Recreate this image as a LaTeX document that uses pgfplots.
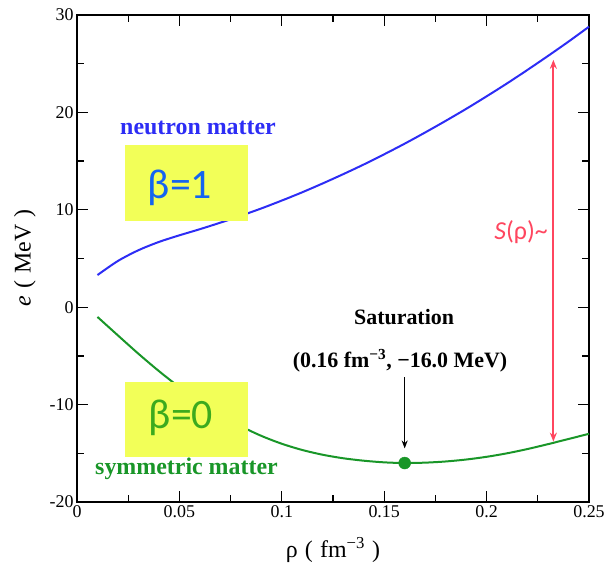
\documentclass[border=0pt]{standalone}
\usepackage{pgfplots}
\pgfplotsset{compat=1.18}
\usepackage{fontspec}
\setmainfont{Liberation Serif}
\newfontfamily\calibri{Carlito}
\usetikzlibrary{arrows.meta}
\definecolor{nblue}{RGB}{45,45,245}
\definecolor{sgreen}{RGB}{25,150,40}
\definecolor{hlyellow}{RGB}{242,255,88}
\definecolor{bblue}{RGB}{20,100,240}
\definecolor{bgreen}{RGB}{60,170,30}
\definecolor{sred}{RGB}{255,70,95}
\begin{document}
\begin{tikzpicture}
\useasboundingbox (-77bp,-66bp) rectangle (533bp,502bp);
\begin{axis}[
  at={(0,0)}, anchor=south west, scale only axis,
  width=512bp, height=487bp,
  xmin=0, xmax=0.25, ymin=-20, ymax=30,
  xtick={0,0.05,0.1,0.15,0.2,0.25},
  xticklabels={0,0.05,0.1,0.15,0.2,0.25},
  ytick={-20,-10,0,10,20,30},
  yticklabels={-20,-10,0,10,20,30},
  minor x tick num=1, minor y tick num=1,
  tick align=inside,
  major tick length=11bp, minor tick length=7bp,
  every tick/.style={black, line width=1.3bp},
  axis line style={line width=1.8bp},
  ticklabel style={font=\fontsize{18}{20}\selectfont},
  clip=false,
]
% neutron matter
\addplot[nblue, line width=2bp, smooth] coordinates {
(0.01,3.3) (0.02,4.75) (0.03,5.85) (0.04,6.7) (0.05,7.38) (0.06,8.01)
(0.07,8.68) (0.08,9.39) (0.09,10.14) (0.10,10.95) (0.11,11.8) (0.12,12.71)
(0.13,13.66) (0.14,14.65) (0.15,15.7) (0.16,16.79) (0.17,17.94) (0.18,19.13)
(0.19,20.36) (0.20,21.65) (0.21,22.98) (0.22,24.37) (0.23,25.8) (0.24,27.27)
(0.25,28.8)};
% symmetric matter
\addplot[sgreen, line width=2bp, smooth] coordinates {
(0.01,-1.0) (0.02,-2.9) (0.03,-4.78) (0.04,-6.56) (0.05,-8.21) (0.06,-9.71)
(0.07,-11.05) (0.08,-12.22) (0.09,-13.21) (0.10,-14.02) (0.11,-14.66) (0.12,-15.15)
(0.13,-15.51) (0.14,-15.76) (0.15,-15.93) (0.16,-16.0) (0.17,-15.96) (0.18,-15.84)
(0.19,-15.64) (0.20,-15.36) (0.21,-15.0) (0.22,-14.56) (0.23,-14.06) (0.24,-13.53)
(0.25,-13.0)};
% saturation point
\addplot[only marks, mark=*, mark size=6bp, sgreen] coordinates {(0.16,-16.0)};

% yellow boxes
\fill[hlyellow] (axis cs:0.0234,16.65) rectangle (axis cs:0.0835,8.85);
\fill[hlyellow] (axis cs:0.0234,-7.65) rectangle (axis cs:0.0835,-15.41);
\node[bblue, font=\calibri\fontsize{42}{44}\selectfont] at (axis cs:0.0503,12.3) {β=1};
\node[bgreen, font=\calibri\fontsize{42}{44}\selectfont] at (axis cs:0.0508,-11.4) {β=0};

% curve labels
\node[nblue, anchor=west, font=\bfseries\fontsize{24}{26}\selectfont, inner sep=0pt] at (axis cs:0.021,18.4) {neutron matter};
\node[sgreen, anchor=west, font=\bfseries\fontsize{24}{26}\selectfont, inner sep=0pt] at (axis cs:0.0088,-16.6) {symmetric matter};

% saturation annotation
\node[font=\bfseries\fontsize{22}{24}\selectfont] at (axis cs:0.1597,-1.0) {Saturation};
\node[font=\bfseries\fontsize{22}{24}\selectfont] at (axis cs:0.1577,-5.5) {(0.16 fm\textsuperscript{−3}, −16.0 MeV)};
\draw[-{Stealth[length=8bp,width=6bp]}, line width=1.3bp] (axis cs:0.16,-7.2) -- (axis cs:0.16,-14.5);

% symmetry energy arrow
\draw[{Stealth[length=9bp,width=7bp]}-{Stealth[length=9bp,width=7bp]}, sred, line width=2bp] (axis cs:0.2326,25.4) -- (axis cs:0.2326,-13.8);
\node[sred, anchor=east, inner sep=1pt, font=\calibri\fontsize{26}{28}\selectfont] at (axis cs:0.2305,7.7) {\textit{S}(ρ)\textasciitilde};
\end{axis}
\node[rotate=90, font=\fontsize{24}{26}\selectfont] at (-52bp,244bp) {\textit{e}\hspace{0.3em}(\hspace{0.3em}MeV\hspace{0.3em})};
\node[font=\fontsize{24}{26}\selectfont] at (256bp,-48bp) {ρ\hspace{0.3em}(\hspace{0.3em}fm\textsuperscript{−3}\hspace{0.3em})};
\end{tikzpicture}
\end{document}
